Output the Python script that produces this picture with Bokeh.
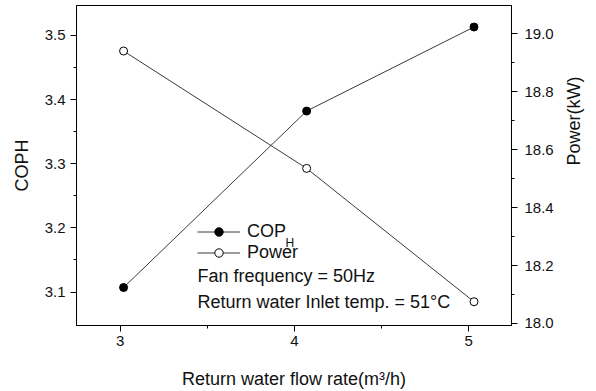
import math
from bokeh.plotting import figure
from bokeh.models import (Range1d, LinearAxis, FixedTicker, Legend, LegendItem, Label,
                          PrintfTickFormatter)
from bokeh.embed import file_html
from bokeh.resources import INLINE

# Data
flow_rate = [3.02, 4.07, 5.03]
cop_h = [3.107, 3.382, 3.513]
power_kw = [18.94, 18.535, 18.075]

x_ticks = [3, 4, 5]
x_minor = [3.5, 4.5]
cop_ticks = [3.1, 3.2, 3.3, 3.4, 3.5]
cop_minor = [3.15, 3.25, 3.35, 3.45]
pow_ticks = [18.0, 18.2, 18.4, 18.6, 18.8, 19.0]
pow_minor = [18.1, 18.3, 18.5, 18.7, 18.9]

FONT = "Liberation Sans"

p = figure(width=596, height=391, output_backend="svg", toolbar_location=None,
           x_range=Range1d(2.75, 5.245), y_range=Range1d(3.0478, 3.5465),
           min_border_left=76, min_border_right=81, min_border_top=5, min_border_bottom=64)
p.extra_y_ranges = {"pow": Range1d(17.993, 19.097)}
p.grid.visible = False
p.outline_line_color = "black"
p.outline_line_width = 1
p.background_fill_color = "white"
p.border_fill_color = "white"

def style(ax, ticks, minor):
    ax.ticker = FixedTicker(ticks=ticks, minor_ticks=minor)
    ax.major_tick_out = 6
    ax.major_tick_in = 0
    ax.minor_tick_out = 3
    ax.minor_tick_in = 0
    ax.axis_line_color = "black"
    ax.major_tick_line_color = "black"
    ax.minor_tick_line_color = "black"
    ax.major_label_text_font = FONT
    ax.major_label_text_font_size = "15px"
    ax.major_label_text_color = "#111111"
    ax.axis_label_text_font = FONT
    ax.axis_label_text_font_size = "18px"
    ax.axis_label_text_font_style = "normal"
    ax.axis_label_text_color = "#111111"

xa = p.xaxis[0]
style(xa, x_ticks, x_minor)
xa.axis_label = "Return water flow rate(m\u00b3/h)"
xa.major_label_standoff = 4
xa.axis_label_standoff = 20

ya = p.yaxis[0]
style(ya, cop_ticks, cop_minor)
ya.axis_label = "COPH"
ya.major_label_standoff = 5
ya.axis_label_standoff = 10
ya.formatter.use_scientific = False

ra = LinearAxis(y_range_name="pow", axis_label="Power(kW)")
style(ra, pow_ticks, pow_minor)
ra.major_label_standoff = 7
ra.axis_label_standoff = 17
ra.formatter = PrintfTickFormatter(format="%.1f")
if "axis_label_orientation" in ra.properties():
    ra.axis_label_orientation = math.pi / 2
p.add_layout(ra, "right")

l1 = p.line(flow_rate, cop_h, line_color="#3a3a3a", line_width=1)
s1 = p.scatter(flow_rate, cop_h, size=8, marker="circle", fill_color="black", line_color="black")
l2 = p.line(flow_rate, power_kw, line_color="#3a3a3a", line_width=1, y_range_name="pow")
s2 = p.scatter(flow_rate, power_kw, size=8, marker="circle", fill_color="white",
               line_color="black", y_range_name="pow")

leg = Legend(items=[LegendItem(label="COP", renderers=[l1, s1]),
                    LegendItem(label="Power", renderers=[l2, s2])],
             location=(121, 62), padding=0, margin=0, spacing=0,
             glyph_width=43, glyph_height=21, label_height=21,
             label_text_font=FONT, label_text_font_size="18px", label_standoff=7,
             label_text_color="#111111",
             background_fill_alpha=0, border_line_alpha=0)
p.add_layout(leg, "center")

p.add_layout(Label(x=209, y=83, x_units="screen", y_units="screen", text="H",
                   text_font=FONT, text_font_size="12px", text_color="#111111",
                   text_baseline="middle"))
p.add_layout(Label(x=121, y=50, x_units="screen", y_units="screen", text="Fan frequency = 50Hz",
                   text_font=FONT, text_font_size="18px", text_color="#111111",
                   text_baseline="middle"))
p.add_layout(Label(x=121, y=24, x_units="screen", y_units="screen",
                   text="Return water Inlet temp. = 51\u00b0C",
                   text_font=FONT, text_font_size="18px", text_color="#111111",
                   text_baseline="middle"))

open("out.html", "w").write(file_html(p, INLINE))
